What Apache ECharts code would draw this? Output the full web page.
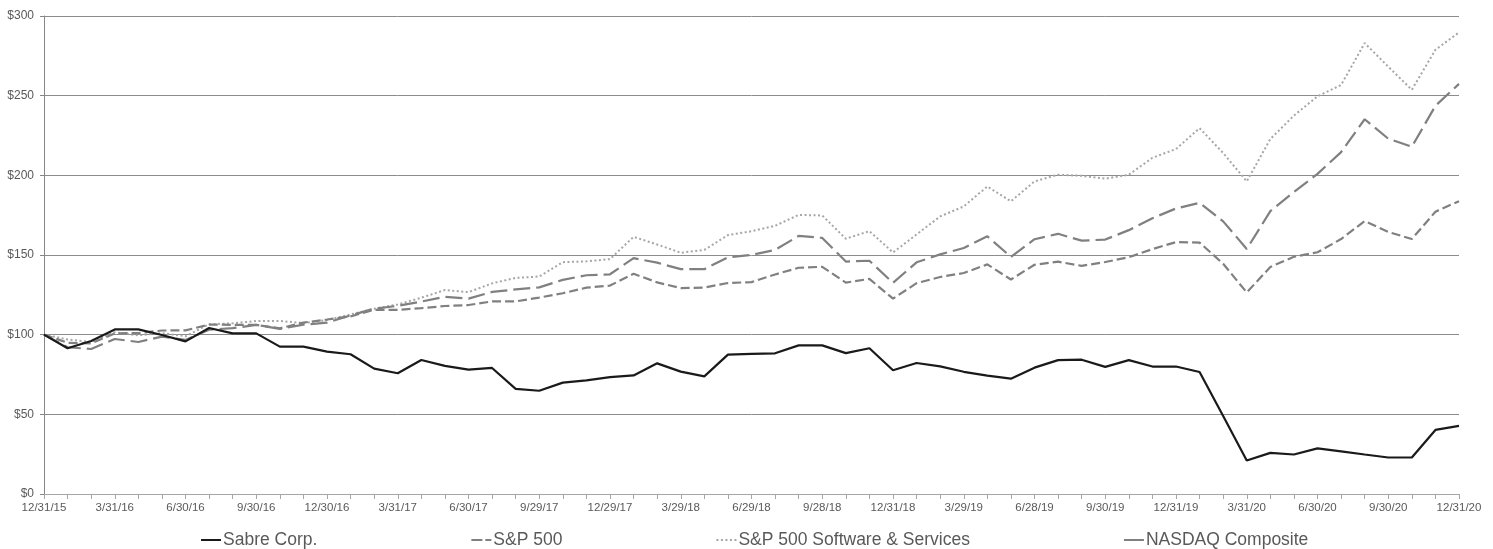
<!DOCTYPE html>
<html>
<head>
<meta charset="utf-8">
<script src="https://cdn.jsdelivr.net/npm/echarts@6/dist/echarts.min.js"></script>
<style>
  html, body { margin: 0; padding: 0; background: #fff; }
  #chart { width: 1493px; height: 549px; }
</style>
</head>
<body>
<div id="chart"></div>
<script>
// Month-end dates (category axis); every 3rd one is labelled
const dates = [
  '12/31/15','1/29/16','2/29/16','3/31/16','4/29/16','5/31/16','6/30/16','7/29/16','8/31/16','9/30/16',
  '10/31/16','11/30/16','12/30/16','1/31/17','2/28/17','3/31/17','4/28/17','5/31/17','6/30/17','7/31/17',
  '8/31/17','9/29/17','10/31/17','11/30/17','12/29/17','1/31/18','2/28/18','3/29/18','4/30/18','5/31/18',
  '6/29/18','7/31/18','8/31/18','9/28/18','10/31/18','11/30/18','12/31/18','1/31/19','2/28/19','3/29/19',
  '4/30/19','5/31/19','6/28/19','7/31/19','8/30/19','9/30/19','10/31/19','11/29/19','12/31/19','1/31/20',
  '2/28/20','3/31/20','4/30/20','5/29/20','6/30/20','7/31/20','8/31/20','9/30/20','10/30/20','11/30/20',
  '12/31/20'
];

const seriesNames = ['Sabre Corp.', 'S&P 500', 'S&P 500 Software & Services', 'NASDAQ Composite'];

const sabre = [
  100, 91.5, 96, 103.3, 103.3, 99.8, 95.8, 104.2, 100.8, 100.8,
  92.5, 92.5, 89.4, 87.7, 78.7, 75.8, 84.1, 80.4, 78.1, 79.1,
  66, 64.8, 69.9, 71.3, 73.3, 74.4, 82, 76.8, 73.8, 87.5,
  87.9, 88.3, 93.3, 93.3, 88.4, 91.5, 77.7, 82.2, 80.1, 76.7,
  74.3, 72.4, 79.3, 84, 84.3, 79.8, 84, 80, 80, 76.6,
  49, 21, 25.8, 24.8, 28.6, 26.8, 24.8, 22.9, 22.9, 40.2, 42.8
];

const sp500 = [
  100, 94.9, 94.5, 100.8, 101.0, 102.6, 102.7, 106.3, 106.2, 106.1,
  104.0, 107.6, 109.5, 111.5, 115.6, 115.6, 116.6, 118.0, 118.6, 120.9,
  120.9, 123.3, 126.0, 129.5, 130.8, 138.2, 132.8, 129.2, 129.6, 132.4,
  133.0, 137.8, 142.0, 142.6, 132.7, 135.0, 122.6, 132.3, 136.2, 138.7,
  144.1, 134.6, 143.9, 145.8, 143.2, 145.6, 148.6, 153.7, 158.1, 157.8,
  144.5, 126.5, 142.5, 148.9, 151.7, 160.0, 171.3, 164.5, 160.0, 177.2, 183.8
];

const software = [
  100, 97, 95.4, 101.5, 99.6, 101, 99, 106.5, 107.1, 108.6,
  108.6, 107.3, 109.2, 112.7, 116.3, 119, 123.2, 128, 126.7, 132.2,
  135.6, 136.5, 145.5, 146, 147.4, 161.4, 156.6, 151.4, 153.2, 162.5,
  164.9, 168.3, 175.2, 174.8, 160.2, 165, 151.6, 162.9, 174.2, 180.5,
  193, 183.7, 196.2, 200.4, 199.7, 197.9, 200.4, 211, 216.5, 229.6,
  214, 196.2, 222.8, 237.5, 249.6, 256.7, 283, 268.2, 253.7, 278.8, 289.7
];

const nasdaq = [
  100, 92.1, 91.0, 97.3, 95.4, 98.8, 96.7, 103.1, 104.1, 106.1,
  103.6, 106.3, 107.5, 112.1, 116.3, 118.1, 120.8, 123.8, 122.6, 126.8,
  128.4, 129.7, 134.4, 137.3, 137.9, 148.0, 145.2, 141.1, 141.1, 148.6,
  150.0, 153.2, 162.0, 160.7, 145.9, 146.4, 132.5, 145.4, 150.4, 154.4,
  161.7, 148.8, 159.9, 163.3, 159.0, 159.7, 165.6, 173.1, 179.2, 182.7,
  171.1, 153.8, 177.5, 189.5, 200.9, 214.6, 235.2, 223.0, 217.9, 243.6, 257.4
];

const yMin = 0, yMax = 300, yStep = 50;

const chart = echarts.init(document.getElementById('chart'), null, { renderer: 'canvas' });
const FONT = '"Liberation Sans", Arial, sans-serif';

chart.setOption({
  animation: false,
  backgroundColor: '#ffffff',
  textStyle: { fontFamily: FONT },
  grid: { left: 44, right: 34, top: 16, bottom: 55, containLabel: false },
  legend: {
    left: 196,
    top: 526,
    itemGap: 154,
    itemWidth: 20,
    itemHeight: 2,
    symbolKeepAspect: false,
    textStyle: { fontSize: 17.5, color: '#595959', fontFamily: FONT, padding: [0, 0, 0, -3] },
    data: [
      { name: seriesNames[0], icon: 'path://M0,0h20v2h-20z' },
      { name: seriesNames[1], icon: 'path://M0,0h11v2h-11zM14,0h6v2h-6z' },
      { name: seriesNames[2], icon: 'path://M0,0h2v2h-2zM4.5,0h2v2h-2zM9,0h2v2h-2zM13.5,0h2v2h-2zM18,0h2v2h-2z' },
      { name: seriesNames[3], icon: 'path://M2,0h16v2h-16z' }
    ]
  },
  xAxis: {
    type: 'category',
    data: dates,
    boundaryGap: false,
    axisLine: { show: true, lineStyle: { color: '#a6a6a6', width: 1 } },
    axisTick: { show: true, interval: 0, length: 5, lineStyle: { color: '#a6a6a6' } },
    axisLabel: { interval: 2, color: '#595959', fontSize: 11.5, margin: 8, fontFamily: FONT },
    splitLine: { show: false }
  },
  yAxis: {
    type: 'value',
    min: yMin,
    max: yMax,
    interval: yStep,
    axisLine: { show: true, lineStyle: { color: '#868686', width: 1 } },
    axisTick: { show: true, length: 4, lineStyle: { color: '#868686' } },
    axisLabel: { formatter: '${value}', color: '#595959', fontSize: 12, margin: 10, fontFamily: FONT },
    splitLine: { show: true, lineStyle: { color: '#8c8c8c', width: 1 } }
  },
  series: [
    {
      name: seriesNames[0], type: 'line', data: sabre, showSymbol: false, symbol: 'none', z: 5,
      color: '#1a1a1a',
      lineStyle: { color: '#1a1a1a', width: 2.2 }
    },
    {
      name: seriesNames[1], type: 'line', data: sp500, showSymbol: false, symbol: 'none', z: 3,
      color: '#808080',
      lineStyle: { color: '#808080', width: 2.2, type: [9, 4] }
    },
    {
      name: seriesNames[2], type: 'line', data: software, showSymbol: false, symbol: 'none', z: 2,
      color: '#a6a6a6',
      lineStyle: { color: '#a6a6a6', width: 2, type: [2, 2.5] }
    },
    {
      name: seriesNames[3], type: 'line', data: nasdaq, showSymbol: false, symbol: 'none', z: 4,
      color: '#808080',
      lineStyle: { color: '#808080', width: 2.2, type: [17, 6] }
    }
  ]
});
</script>
</body>
</html>
